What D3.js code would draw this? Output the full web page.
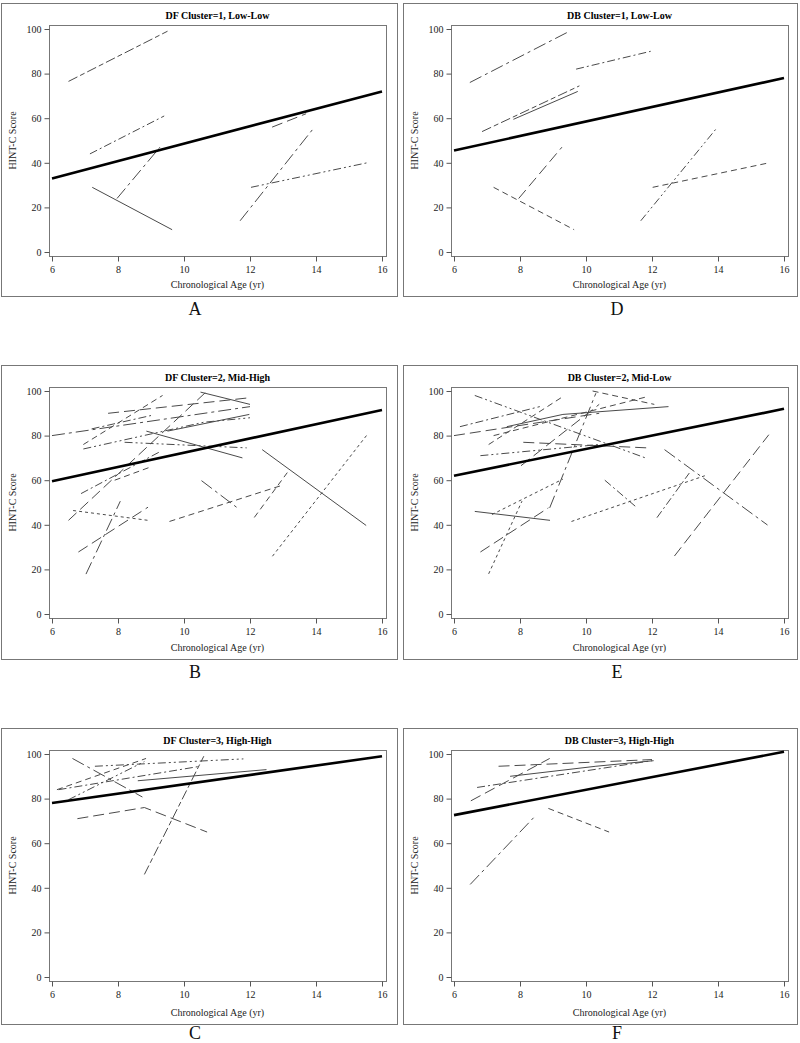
<!DOCTYPE html>
<html><head><meta charset="utf-8">
<script src="https://cdn.jsdelivr.net/npm/d3@7"></script>
<style>body{margin:0;background:#fff}</style>
</head><body>
<svg id="c" width="800" height="1043"></svg>
<script>
const xTicks=[6,8,10,12,14,16];
const yTicks=[0,20,40,60,80,100];
const panelTitles=["DF Cluster=1, Low-Low","DB Cluster=1, Low-Low","DF Cluster=2, Mid-High","DB Cluster=2, Mid-Low","DF Cluster=3, High-High","DB Cluster=3, High-High"];
const panelLetters=["A","D","B","E","C","F"];
const xTitle="Chronological Age (yr)";
const yTitle="HINT-C Score";
const trendAt6=[33,45.5,59.5,62,78,72.6];
const trendAt16=[72,78,91.5,92,99,101];

const seriesA=[
 [[6.5,76.5],[9.5,99]],[[7.15,44],[9.4,61]],[[7.97,24],[9.27,47]],[[7.22,29],[9.64,10]],
 [[12.67,56],[13.7,62]],[[11.7,14],[13.9,55]],[[12.03,29],[15.55,40]]];
const patternA=["ldsd","dd","ldd","solid","ld","ldd","d2"];

const seriesD=[
 [[6.48,76],[9.5,99]],[[9.7,82],[11.96,90]],[[6.85,54],[9.8,74.5]],[[7.8,59.5],[9.75,72]],
 [[7.96,24],[9.27,47]],[[7.2,29],[9.64,10]],[[11.66,14],[13.93,55]],[[12.02,29],[15.55,40]]];
const patternD=["ldd","dd","ldsd","solid","ld","dash","d2","dash"];

const seriesB=[
 [[6.0,80],[12.0,93]],[[7.7,90],[12.0,97]],[[6.95,76],[9.35,98]],[[6.95,74],[10.6,86],[12.0,88]],
 [[7.2,83],[9.0,89]],[[8.86,82],[11.77,70]],[[8.2,77],[11.9,74.5]],[[6.5,42],[10.7,100]],
 [[6.88,54],[9.3,73]],[[7.9,60],[9.0,66]],[[6.64,46.4],[8.91,42]],[[6.8,27.8],[8.91,47.9]],
 [[7.03,17.9],[8.07,50.6]],[[9.56,41.5],[12.95,57.6]],[[12.13,43.3],[13.13,63.4]],
 [[12.37,73.7],[15.52,39.7]],[[12.68,25.9],[15.55,80.4]],[[10.53,59.8],[11.6,47.8]],
 [[9.5,82],[11.98,89.5]],[[10.5,99.5],[12.0,94]]];
const patternB=["ldd","ld","dash","d2","dd","solid","d2","ld","dd","dash","sd","ld","ldd","dash","dash","solid","sd","ldd","solid","solid"];

const seriesE=[
 [[6.63,98],[11.8,70]],[[6.18,84],[8.6,93]],[[6.0,80],[10.4,90]],[[7.6,84],[9.3,89.5],[12.5,93]],
 [[7.05,76],[9.3,97.5]],[[6.63,46],[8.91,42]],[[6.8,27.8],[8.86,47.6]],[[7.05,18],[8.06,50.6]],
 [[7.15,44.6],[9.3,60.5]],[[8.9,47.6],[10.3,99]],[[6.8,71],[10.4,76]],[[8.03,66.5],[10.4,94]],
 [[8.1,77],[11.85,74.5]],[[10.57,60],[11.55,47.6]],[[9.56,41.5],[13.6,62]],[[12.15,43.2],[13.13,63.2]],
 [[12.38,73.7],[15.5,39.9]],[[12.68,26],[15.54,80.4]],[[10.2,100],[12.07,94]],[[7.2,80],[11.87,97.5]]];
const patternE=["d2","dd","ld","solid","dash","solid","ld","sd","sd","ldd","d2","ld","ld","dd","sd","dd","ldd","ld","dash","dash"];

const seriesC=[
 [[6.62,98],[8.74,80.7]],[[6.77,71],[8.8,76],[10.7,65]],[[8.8,46],[10.6,99]],[[7.3,94.5],[11.8,97.8]],
 [[6.15,84],[8.85,98]],[[6.2,84],[10.45,94.4]],[[6.5,79.5],[8.8,96.6]],[[8.6,88],[12.5,93]]];
const patternC=["ldd","ld","ldsd","d2","dash","dd","d2","solid"];

const seriesF=[
 [[7.35,94.5],[12.0,97.5]],[[7.7,90],[10.3,94.5],[12.05,97]],[[6.7,85],[12.0,97]],
 [[6.51,79],[8.9,98]],[[6.49,41.5],[8.41,71.4]],[[8.86,75.6],[10.7,65]]];
const patternF=["ld","solid","dd","ld","ldd","dash"];

const allSeries=[seriesA,seriesD,seriesB,seriesE,seriesC,seriesF];
const allPatterns=[patternA,patternD,patternB,patternE,patternC,patternF];

const dashMap={solid:null,sd:"3,3",dash:"6,4",ld:"11,5",dd:"8,3,2,3",ldd:"13,4,3,4",d2:"8,3,2,3,2,3",ldsd:"10,3,5,3"};
const frameTops=[3,365,728], frameHeights=[293,294,296];
const FONT="'Liberation Serif','Times New Roman',serif";
const svg=d3.select("#c");

for(let i=0;i<6;i++){
  const col=i%2,row=Math.floor(i/2);
  const fx=col?403:1, fw=col?394:396, ft=frameTops[row], fh=frameHeights[row];
  const g=svg.append("g");
  g.append("rect").attr("x",fx+0.5).attr("y",ft+0.5).attr("width",fw).attr("height",fh)
    .attr("fill","none").attr("stroke","#777").attr("stroke-width",1);
  const pl=fx+48, pt=ft+22, pw=337, ph=231;
  const x=d3.scaleLinear().domain([6,16]).range([pl+3,pl+333]);
  const y=d3.scaleLinear().domain([0,100]).range([pt+227,pt+4]);
  g.append("rect").attr("x",pl+0.5).attr("y",pt+0.5).attr("width",pw).attr("height",ph)
    .attr("fill","none").attr("stroke","#777");
  const xa=g.append("g").attr("transform",`translate(0,${pt+ph+0.5})`)
    .call(d3.axisBottom(x).tickValues(xTicks).tickSize(5).tickPadding(4).tickFormat(d3.format("d")));
  const ya=g.append("g").attr("transform",`translate(${pl+0.5},0)`)
    .call(d3.axisLeft(y).tickValues(yTicks).tickSize(5).tickPadding(3).tickFormat(d3.format("d")));
  [xa,ya].forEach(a=>{
    a.select(".domain").remove();
    a.selectAll("line").attr("stroke","#555");
    a.selectAll("text").attr("font-family",FONT).attr("font-size",10).attr("fill","#222");
  });
  g.append("text").attr("x",pl+pw/2).attr("y",ft+16).attr("text-anchor","middle")
    .attr("font-family",FONT).attr("font-size",10).attr("font-weight","bold").text(panelTitles[i]);
  g.append("text").attr("x",pl+pw/2).attr("y",ft+fh-8).attr("text-anchor","middle")
    .attr("font-family",FONT).attr("font-size",10).attr("fill","#222").text(xTitle);
  g.append("text").attr("transform",`translate(${fx+15},${(y(0)+y(100))/2}) rotate(-90)`)
    .attr("text-anchor","middle").attr("font-family",FONT).attr("font-size",10).attr("fill","#222").text(yTitle);

  const line=d3.line().x(d=>x(d[0])).y(d=>y(d[1]));
  allSeries[i].forEach((s,k)=>{
    const p=g.append("path").attr("d",line(s)).attr("fill","none")
      .attr("stroke","#4a4a4a").attr("stroke-width",1);
    const da=dashMap[allPatterns[i][k]];
    if(da) p.attr("stroke-dasharray",da);
  });
  g.append("path").attr("d",line([[6,trendAt6[i]],[16,trendAt16[i]]]))
    .attr("fill","none").attr("stroke","#000").attr("stroke-width",2.6);

  const ly=row===2?1039:ft+fh+19;
  svg.append("text").attr("x",col?617:195).attr("y",ly).attr("text-anchor","middle")
    .attr("font-family",FONT).attr("font-size",18).attr("fill","#111").text(panelLetters[i]);
}
</script>
</body></html>
